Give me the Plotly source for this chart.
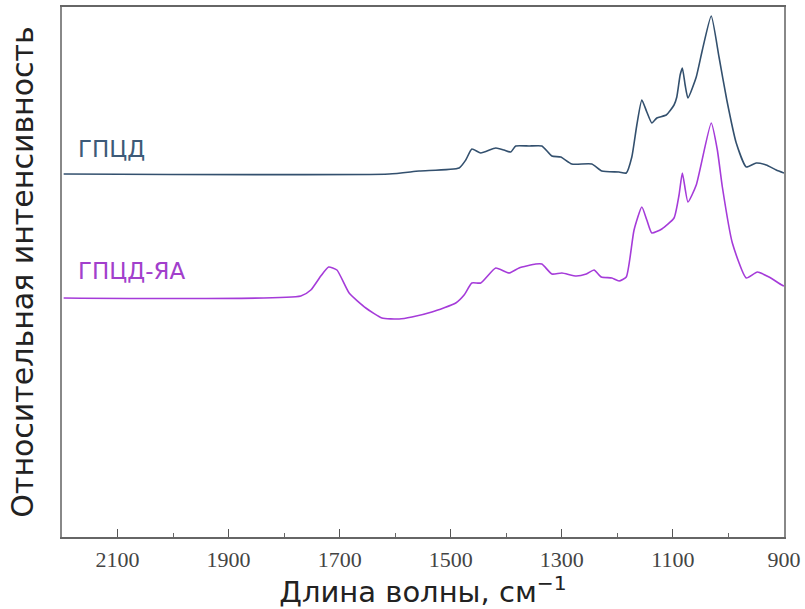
import plotly.graph_objects as go

# ГПЦД spectrum (wavenumber, cm^-1 ; relative intensity, a.u.)
wn_gpcd = [2197, 1611, 1557, 1485, 1473, 1462, 1446, 1419, 1404, 1392, 1383, 1359, 1336, 1318,
           1302, 1282, 1246, 1228, 1197, 1184, 1174, 1165, 1156, 1147, 1138, 1129, 1112, 1098,
           1093, 1087, 1083, 1078, 1073, 1058, 1047, 1031, 1017, 1003, 986, 968, 950, 932, 914, 900]
int_gpcd = [36.1, 36.1, 36.4, 36.7, 37.5, 38.6, 38.2, 38.7, 38.5, 38.3, 38.9, 38.9, 38.9, 37.9,
            37.8, 37.1, 37.1, 36.4, 36.3, 36.2, 37.8, 41.0, 43.5, 42.3, 41.2, 41.7, 42.0, 43.0,
            43.8, 46.0, 46.7, 45.0, 43.7, 45.8, 48.5, 51.9, 47.8, 43.5, 39.2, 36.8, 37.2, 37.0, 36.5, 36.2]

# ГПЦД-ЯА spectrum
wn_gpcd_ya = [2197, 1770, 1752, 1734, 1720, 1705, 1683, 1653, 1624, 1593, 1570, 1534, 1491, 1476,
              1462, 1446, 1419, 1395, 1377, 1347, 1336, 1318, 1300, 1274, 1256, 1242, 1229, 1210,
              1197, 1184, 1170, 1156, 1147, 1138, 1120, 1098, 1089, 1083, 1073, 1058, 1031, 1020,
              1011, 993, 968, 948, 927, 904, 900]
int_gpcd_ya = [23.7, 23.9, 24.5, 25.9, 26.8, 26.5, 24.2, 22.7, 21.7, 21.6, 21.8, 22.3, 23.2, 24.0,
               25.2, 25.2, 26.7, 26.2, 26.7, 27.1, 27.1, 26.1, 26.2, 25.9, 26.1, 26.5, 25.8, 25.7,
               25.4, 25.8, 30.5, 32.8, 31.5, 30.2, 30.6, 31.7, 34.0, 36.2, 33.3, 35.0, 41.2, 38.5,
               34.8, 29.2, 25.7, 26.3, 25.8, 25.0, 24.9]

tick_vals = [2100, 1900, 1700, 1500, 1300, 1100, 900]
tick_text = ["2100", "1900", "1700", "1500", "1300", "1100", "900"]
minor_vals = [2000, 1800, 1600, 1400, 1200, 1000]

labels = ["ГПЦД", "ГПЦД-ЯА"]
colors = ["#33506e", "#a53bd9"]

fig = go.Figure()
fig.add_trace(go.Scatter(x=wn_gpcd, y=int_gpcd, mode="lines", name=labels[0],
                         line=dict(color=colors[0], width=1.6, shape="spline", smoothing=0.5)))
fig.add_trace(go.Scatter(x=wn_gpcd_ya, y=int_gpcd_ya, mode="lines", name=labels[1],
                         line=dict(color=colors[1], width=1.6, shape="spline", smoothing=0.5)))

fig.add_annotation(x=2174, y=38.6, text=labels[0], showarrow=False, xanchor="left", yanchor="middle",
                   font=dict(family="DejaVu Sans", size=23, color="#3d5a78"))
fig.add_annotation(x=2174, y=26.4, text=labels[1], showarrow=False, xanchor="left", yanchor="middle",
                   font=dict(family="DejaVu Sans", size=23, color="#a23fcc"))

fig.update_layout(
    width=805, height=609,
    margin=dict(l=62, r=21, t=7, b=72),
    paper_bgcolor="white", plot_bgcolor="white",
    showlegend=False,
    xaxis=dict(
        range=[2200, 900], tickvals=tick_vals, ticktext=tick_text,
        ticks="inside", ticklen=8, tickwidth=1, tickcolor="#555",
        minor=dict(tickvals=minor_vals, ticks="inside", ticklen=4,
                   tickcolor="#666", showgrid=False),
        showline=True, linecolor="#666", linewidth=1.5, mirror=True,
        showgrid=False, zeroline=False, automargin=False,
        ticklabelstandoff=2,
        tickfont=dict(family="Liberation Serif, Times New Roman", size=22, color="#444"),
        title=dict(text="Длина волны, см<sup>−1</sup>", standoff=2,
                   font=dict(family="DejaVu Sans", size=29, color="#222")),
    ),
    yaxis=dict(
        range=[-0.2, 52.8], showticklabels=False, ticks="",
        showline=True, linecolor="#888", linewidth=1.5, mirror=True,
        showgrid=False, zeroline=False, automargin=False,
        title=dict(text="Относительная интенсивность", standoff=18,
                   font=dict(family="DejaVu Sans", size=30, color="#222")),
    ),
)

fig.write_html("out.html", config={"displayModeBar": False},
               post_script="document.body.style.margin='0px';")
